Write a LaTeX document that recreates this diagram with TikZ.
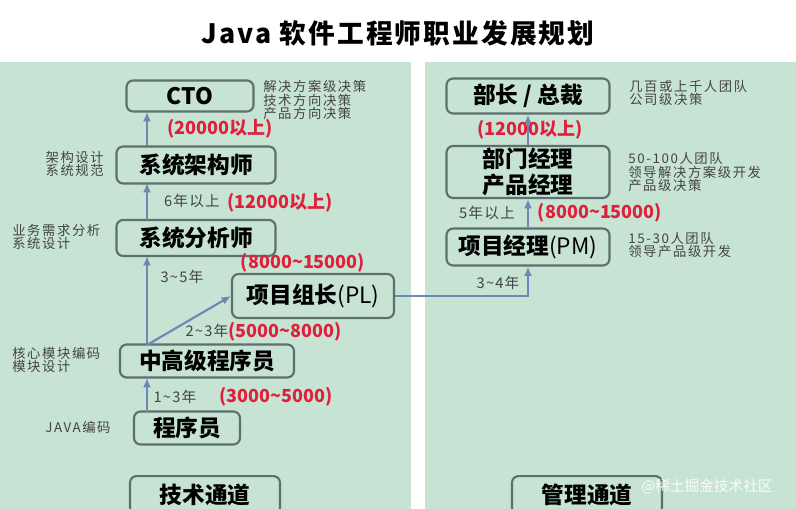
\documentclass[tikz,border=0pt]{standalone}
\usepackage{fontspec}
\usetikzlibrary{arrows.meta}
\setmainfont{Noto Sans CJK SC}
\begin{document}
\begin{tikzpicture}[x=0.75pt,y=-0.75pt,
 box/.style={draw=boxc,line width=1.6pt,rounded corners=5pt,fill=panel,inner sep=0pt,font=\fontsize{17}{19}\selectfont\bfseries},
 note/.style={font=\fontsize{10}{10}\selectfont\addfontfeature{LetterSpace=12},text=notec,align=left,anchor=west,inner sep=0pt},
 rnote/.style={note,align=right,anchor=east},
 yrs/.style={font=\fontsize{11}{12}\selectfont\addfontfeature{LetterSpace=8},text=notec,inner sep=0pt},
 pay/.style={font=\fontsize{13.5}{15}\selectfont\bfseries,text=payc,inner sep=0pt},
 arr/.style={draw=arrc,line width=1.6pt,-{Latex[length=7pt,width=6pt]}}]
\definecolor{panel}{HTML}{C6E3D3}
\definecolor{boxc}{HTML}{5E6F6C}
\definecolor{notec}{HTML}{444444}
\definecolor{payc}{HTML}{E0203A}
\definecolor{arrc}{HTML}{6F86B6}
\useasboundingbox (0,0) rectangle (796,509);
\fill[white] (0,0) rectangle (796,509);
\fill[panel] (0,62) rectangle (411,509);
\fill[panel] (425,62) rectangle (796,509);
\node[font=\fontsize{20}{22}\selectfont\bfseries\addfontfeature{LetterSpace=8}] (title) at (398,33) {Java 软件工程师职业发展规划};
% left boxes
\node[box,minimum width=127*0.75pt,minimum height=31*0.75pt] (cto) at (190,96) {CTO};
\node[box,minimum width=159*0.75pt,minimum height=37*0.75pt] (arch) at (196,165) {系统架构师};
\node[box,minimum width=159*0.75pt,minimum height=36*0.75pt] (ana) at (196,238) {系统分析师};
\node[box,minimum width=162*0.75pt,minimum height=44*0.75pt] (pl) at (313,296) {项目组长\textmd{(PL)}};
\node[box,minimum width=174*0.75pt,minimum height=33*0.75pt] (sen) at (207,361) {中高级程序员};
\node[box,minimum width=106*0.75pt,minimum height=33*0.75pt] (prog) at (187,428) {程序员};
\node[box,minimum width=150*0.75pt,minimum height=38*0.75pt,anchor=north] (tech) at (205,475) {技术通道};
% right boxes
\node[box,minimum width=163*0.75pt,minimum height=35*0.75pt] (ceo) at (528,96) {部长 / 总裁};
\node[box,minimum width=163*0.75pt,minimum height=52*0.75pt,align=center,font=\fontsize{17}{20}\selectfont\bfseries] (dept) at (528,172) {部门经理\\产品经理};
\node[box,minimum width=163*0.75pt,minimum height=37*0.75pt] (pm) at (528,247) {项目经理\textmd{(PM)}};
\node[box,minimum width=150*0.75pt,minimum height=38*0.75pt,anchor=north] (mgmt) at (587,475) {管理通道};
% arrows
\coordinate (c1) at (147,345);
\draw[arr] (147,412) -- (147,378);
\draw[arr] (c1) -- (147,256);
\draw[arr] (147,220) -- (147,183);
\draw[arr] (147,146) -- (147,112);
\draw[arr] (c1) -- (pl.west);
\draw[arr] (pl.east) -- (pm.south |- pl.east) -- (pm.south);
\draw[arr] (dept.south |- pm.north) -- (dept.south);
\draw[arr] (ceo.south |- dept.north) -- (ceo.south);
% labels left
\node[pay] (p1) at (220,129) {(20000以上)};
\node[yrs] (y1) at (192,201) {6年以上};
\node[pay] (p2) at (280,203) {(12000以上)};
\node[yrs] (y2) at (182,277) {3\textasciitilde5年};
\node[pay] (p3) at (303,263) {(8000\textasciitilde15000)};
\node[yrs] (y3) at (207,331) {2\textasciitilde3年};
\node[pay] (p4) at (285,332) {(5000\textasciitilde8000)};
\node[yrs] (y4) at (175,397) {1\textasciitilde3年};
\node[pay] (p5) at (276,397) {(3000\textasciitilde5000)};
\node[note] (n1) at (263,100) {解决方案级决策\\技术方向决策\\产品方向决策};
\node[rnote] (n2) at (104,164) {架构设计\\系统规范};
\node[note] (n3) at (12,237) {业务需求分析\\系统设计};
\node[note] (n4) at (12,360) {核心模块编码\\模块设计};
\node[note] (n5) at (45,427) {JAVA编码};
% labels right
\node[note] (n6) at (629,93) {几百或上千人团队\\公司级决策};
\node[pay] (p6) at (530,130) {(12000以上)};
\node[note] (n7) at (628,172) {50-100人团队\\领导解决方案级开发\\产品级决策};
\node[yrs] (y5) at (487,213) {5年以上};
\node[pay] (p7) at (600,213) {(8000\textasciitilde15000)};
\node[note] (n8) at (628,245) {15-30人团队\\领导产品级开发};
\node[yrs] (y6) at (498,283) {3\textasciitilde4年};
\node[font=\fontsize{11}{12}\selectfont,text=white,opacity=0.9] (wm) at (707,487) {@稀土掘金技术社区};
\end{tikzpicture}
\end{document}
